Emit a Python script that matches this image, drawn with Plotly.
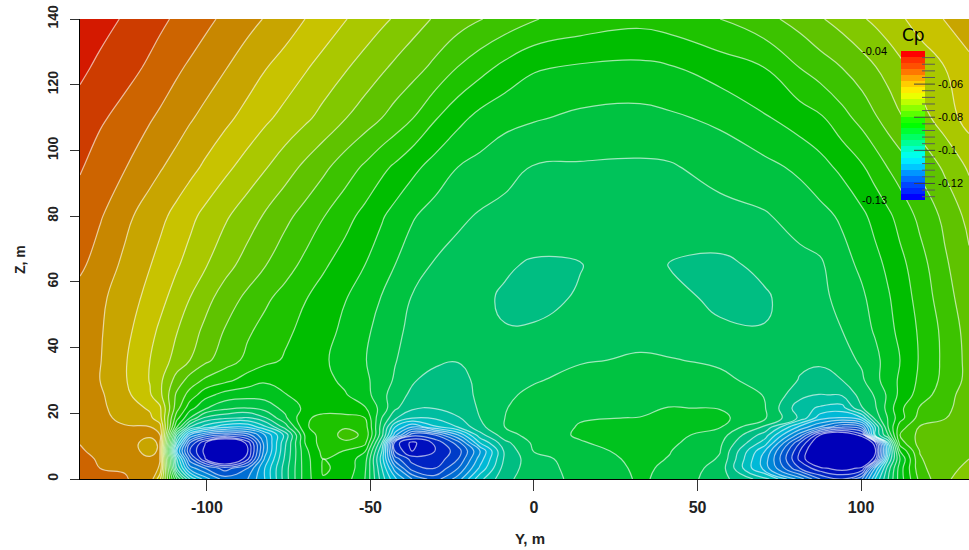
import numpy as np
import plotly.graph_objects as go

# Y positions (m) and Z positions (m) of the readings
y_m = [-138.8,-132.7,-125.1,-117.4,-114.4,-109.2,-105.2,-100.6,-94.5,-87.5,-82.3,-76.1,-70,-64.5,-57.8,-51.7,-46.5,-42.5,-37.3,-30.3,-23.2,-16.5,-8.9,0,14.1,32.4,41.6,56.9,70.6,81.3,87.5,94.2,100.3,104.3,108.3,111.9,118,125.7,133]
z_m = [0,3.3,6.1,8.5,11,13.4,15.8,18.6,21.6,25.6,30.1,36.2,45.3,55.1,65.1,80,95,109.9,125.1,140]

# Readings: position among the Cp contours counted from the picture (one row per Z, bottom to top)
contour_readings = [
 [2.6,2.8,2.95,3.3,5.7,13,17,19.5,21.5,21,19,15.5,12.5,11.05,11.5,13,16.5,18.8,21,22.5,20.5,17.3,15.2,14.55,13.7,12.9,13.2,14.6,16.5,20.5,23,24,22,18,15,12.5,9.7,8.1,7.7],
 [2.75,3,3.05,3.5,4.1,16,20.5,22,23.5,22,19,15.5,12.5,10.9,11.2,12.8,17,20.5,23.5,24,22,18.8,15.5,14.5,13.6,12.85,13.15,14.4,19.5,24,25.8,26.5,25.8,20,15.5,12.5,9.3,8.15,7.9],
 [2.75,3.1,3.4,3.9,3.95,17,22.5,25.9,29,25.2,19.8,15.8,12.4,11,11.4,12.5,17.5,22.5,24.4,24.8,23,19.5,15.8,14.35,13.55,12.75,13.05,14.1,19.5,25.3,28,29,28,25.5,17,13,9.1,8.2,8],
 [2.9,3.25,3.7,4.2,3.9,19,24,26.3,31,26,20.5,16,12.3,10.7,11.05,11.9,17,24,26.1,25,23.5,20,15.8,13.95,13.4,12.6,12.97,13.97,19,25,28,29,28.5,26.3,18,12,8.95,8.35,8.2],
 [3.03,3.35,3.75,4.2,3.9,17,23,25.9,29,25.6,20.5,16.2,12,10.45,10.1,10.7,16,24.5,26.3,24.8,22.5,18,15.3,13.8,13.1,12.4,12.8,13.8,17.5,24,27.5,28.5,28,25.5,17,10.5,8.6,8.45,8.35],
 [3.15,3.5,3.75,3.9,3.95,15,20,22,23,22.5,20,16.7,11.9,10.4,9.8,10.1,14.7,19.5,23.6,23,20,16.4,14.4,13.6,12.85,12.45,12.65,13.5,16.5,21.5,26,27.5,25.5,17,14,10,8.7,8.6,8.45],
 [3.2,3.6,3.9,3.97,4.6,12,16,17.5,18.8,18.9,17.3,14.6,11.2,10.3,10.05,10.45,14.5,18,20,18.2,17,15.3,14,13.4,12.95,12.55,12.5,12.95,15.2,19.3,21.1,23,22,17,13,10.5,8.9,8.75,8.6],
 [3.25,3.7,4.3,4.8,5.6,10.6,13,15.2,15.8,16.1,15.1,13.2,11.15,10.75,10.75,11,14,15.8,16.9,16.85,16.1,15,14,13.45,13.05,12.98,12.7,12.75,13.85,16.2,18.6,19.05,18,14.65,12.9,11.4,9.6,9.03,8.6],
 [3.35,3.8,4.45,5.15,5.8,9.6,11.6,12.85,13.7,14,13.6,12.7,11.8,11.35,11.45,11.9,13.4,14.8,15.8,15.95,15.55,14.9,14.05,13.55,13.15,13.2,12.97,13.05,13.95,16.6,17.15,17.4,15.05,14.15,12.6,11.25,9.9,9.2,8.55],
 [3.4,3.85,4.7,5.9,6.7,9.2,10.4,11.6,12.4,12.6,12.6,12.05,11.65,11.55,11.9,12.65,13.6,14.65,15.15,15.6,15.55,14.75,14.2,13.75,13.4,13.4,13.2,13.3,14.05,15.65,16.05,15.9,14.6,13.9,12.8,11.75,10.55,9.4,8.5],
 [3.6,4,4.9,6.05,6.75,8.4,9.4,10.15,10.7,11.45,11.85,11.6,11.4,11.65,12.25,12.75,13.6,14.1,14.9,15.35,15.2,14.85,14.5,14.1,13.65,13.45,13.5,13.8,14.3,15.05,15.3,15,14.15,13.3,12.5,11.85,10.8,9.7,8.7],
 [3.6,3.95,4.9,6,6.5,7.35,8,8.75,9.5,10.25,10.7,11.1,11.45,11.85,12.4,12.95,13.5,13.95,14.4,14.8,14.97,14.75,14.45,14.35,14.1,13.88,13.95,14.15,14.4,14.85,14.85,14.35,13.85,13.25,12.6,12,10.9,9.75,8.7],
 [3.55,3.9,4.7,5.72,6.15,6.95,7.55,8.2,9.05,9.85,10.3,10.8,11.25,11.65,12.2,12.8,13.35,13.75,14.25,14.55,14.7,14.75,14.97,14.95,14.5,14.35,14.5,14.9,14.97,14.65,14.4,14,13.35,12.9,12.3,11.75,10.85,9.7,8.6],
 [3.4,3.8,4.5,5.3,5.7,6.4,7,7.65,8.45,9.25,9.8,10.35,10.95,11.4,11.95,12.55,13.05,13.5,14.05,14.4,14.6,14.85,15.1,15.15,14.95,14.6,14.8,15.15,15.1,14.6,14.25,13.7,13.15,12.65,12.1,11.55,10.65,9.4,8.4],
 [2.8,3.45,4.2,4.97,5.3,5.9,6.35,6.9,7.65,8.4,8.95,9.6,10.25,10.85,11.45,12,12.55,13,13.5,14.1,14.4,14.6,14.9,15.1,15.02,14.8,15.03,15.2,14.8,14.3,14.15,13.35,12.8,12.3,11.8,11.3,10.4,9.15,8.2],
 [2.5,2.9,3.75,4.48,4.75,5.3,5.75,6.25,6.85,7.55,8.1,8.75,9.35,9.95,10.65,11.3,11.9,12.35,12.9,13.4,13.8,14.1,14.3,14.45,14.55,14.5,14.5,14.35,14.1,13.6,13.3,12.85,12.2,11.7,11.2,10.65,9.75,8.75,7.7],
 [1.9,2.45,2.95,3.63,3.9,4.35,4.7,5.15,5.75,6.4,6.9,7.55,8.2,8.75,9.5,10.15,10.75,11.15,11.7,12.4,13,13.3,13.65,14.05,14.1,14.15,14.1,13.6,13.25,12.8,12.35,11.75,11.1,10.55,9.95,9.5,8.8,7.8,6.85],
 [1.4,1.85,2.35,2.92,3.15,3.55,3.9,4.25,4.75,5.35,5.8,6.3,6.8,7.3,7.95,8.5,9,9.4,9.95,10.9,11.7,12.3,12.7,12.9,13.2,13.3,13.15,12.8,12.1,11.5,11.15,10.35,9.65,9.1,8.55,8.1,7.4,6.5,5.6],
 [0.8,1.2,1.65,2.17,2.4,2.85,3.15,3.5,3.95,4.5,4.95,5.4,5.9,6.35,6.9,7.4,7.85,8.2,8.6,9.25,10.05,10.65,11.3,11.9,12.15,12.25,12.1,11.5,11,10,9.5,9,8.45,8.05,7.65,7.25,6.6,6,5.35],
 [0.25,0.65,1.1,1.6,1.8,2.15,2.4,2.75,3.2,3.7,4.05,4.5,5,5.4,5.95,6.4,6.8,7.1,7.55,8.1,8.55,8.95,9.4,9.95,10.4,10.7,10.5,10,9.3,8.6,8.1,7.6,7.1,6.8,6.45,6.15,5.6,4.95,4.3],
]

first_level = -0.042
level_step = -0.0035
last_level = -0.1295
cp_grid = first_level + level_step * (np.array(contour_readings) - 1)

# band colours of the field, from the top contour band (highest Cp) to the lowest
field_band_colors = ["rgb(212,25,0)","rgb(205,60,0)","rgb(205,100,0)","rgb(200,135,0)","rgb(200,165,0)","rgb(200,195,0)",
 "rgb(170,200,0)","rgb(130,200,0)","rgb(95,195,0)","rgb(60,195,0)","rgb(30,195,0)","rgb(0,190,0)","rgb(0,195,30)",
 "rgb(0,195,65)","rgb(0,195,90)","rgb(0,190,130)","rgb(0,190,160)","rgb(0,190,190)","rgb(0,185,215)","rgb(0,160,215)",
 "rgb(0,135,215)","rgb(0,110,210)","rgb(0,85,205)","rgb(0,60,200)","rgb(0,35,195)","rgb(0,15,190)","rgb(0,0,185)"]
n_bands = len(field_band_colors)
field_scale = [[i/(n_bands-1), c] for i, c in enumerate(reversed(field_band_colors))]

# legend bar
bar_colors = ["rgb(255,0,0)","rgb(255,50,0)","rgb(255,80,0)","rgb(255,120,0)","rgb(255,165,0)","rgb(255,205,0)","rgb(255,235,0)",
 "rgb(235,255,0)","rgb(190,255,0)","rgb(140,255,0)","rgb(90,255,0)","rgb(30,255,0)","rgb(0,255,0)","rgb(0,255,50)","rgb(0,255,100)",
 "rgb(0,255,150)","rgb(0,255,200)","rgb(0,255,235)","rgb(0,235,255)","rgb(0,200,255)","rgb(0,150,255)","rgb(0,110,255)",
 "rgb(0,70,255)","rgb(0,40,255)","rgb(0,0,255)"]
bar_cp = [-0.0418,-0.0454,-0.049,-0.0526,-0.0562,-0.0598,-0.0634,-0.067,-0.0706,-0.0742,-0.0778,-0.0814,-0.085,-0.0886,-0.0922,-0.0958,-0.0994,-0.103,-0.1066,-0.1102,-0.1138,-0.1174,-0.121,-0.1246,-0.1282]
bar_minor_ticks = [-0.044,-0.048,-0.052,-0.056,-0.064,-0.068,-0.072,-0.076,-0.084,-0.088,-0.092,-0.096,-0.104,-0.108,-0.112,-0.116,-0.124,-0.128]
bar_major_ticks = [-0.06,-0.08,-0.10,-0.12]
bar_major_labels = ["-0.06","-0.08","-0.1","-0.12"]
bar_end_ticks = [-0.04,-0.13]
bar_end_labels = ["-0.04","-0.13"]

x_ticks = [-100,-50,0,50,100]
z_ticks = [0,20,40,60,80,100,120,140]

W, H = 969, 550
fig = go.Figure()
fig.add_trace(go.Contour(x=y_m, y=z_m, z=cp_grid, autocontour=False,
    contours=dict(start=last_level, end=first_level, size=-level_step, coloring="fill", showlines=True),
    line=dict(color="rgba(255,255,255,0.62)", width=1.2, smoothing=1.3),
    colorscale=field_scale, showscale=False, hoverinfo="skip"))

# legend bar in its own small axes
n = len(bar_colors)
bar_scale = []
for i, c in enumerate(reversed(bar_colors)):
    bar_scale += [[i/n, c], [(i+1)/n, c]]
fig.add_trace(go.Heatmap(x=[901,925], y=bar_cp, z=[[v] for v in bar_cp], colorscale=bar_scale,
    zmin=-0.13, zmax=-0.04, showscale=False, xaxis="x2", yaxis="y2", hoverinfo="skip"))
tx, ty = [], []
for t in bar_minor_ticks:
    tx += [922,935,None]; ty += [t,t,None]
fig.add_trace(go.Scatter(x=tx, y=ty, mode="lines", line=dict(color="#5a5a5a", width=1), xaxis="x2", yaxis="y2", showlegend=False, hoverinfo="skip"))
tx, ty = [], []
for t in bar_major_ticks:
    tx += [914,935,None]; ty += [t,t,None]
fig.add_trace(go.Scatter(x=tx, y=ty, mode="lines", line=dict(color="#444444", width=1), xaxis="x2", yaxis="y2", showlegend=False, hoverinfo="skip"))

ann = []
small = dict(family="Liberation Sans", size=11, color="black")
for t, s in zip(bar_major_ticks, bar_major_labels):
    ann.append(dict(x=936, y=t, xref="x2", yref="y2", text=s, showarrow=False, xanchor="left", yanchor="middle", font=small))
for t, s in zip(bar_end_ticks, bar_end_labels):
    ann.append(dict(x=889, y=t, xref="x2", yref="y2", text=s, showarrow=False, xanchor="right", yanchor="middle", font=small))
ann.append(dict(x=913/W, y=1-35/H, xref="paper", yref="paper", text="Cp", showarrow=False, xanchor="center", yanchor="middle",
                font=dict(family="DejaVu Sans", size=17, color="black")))

ann.append(dict(x=530/W, y=1-538/H, xref="paper", yref="paper", text="Y, m", showarrow=False, xanchor="center", yanchor="middle",
                font=dict(family="Liberation Sans", size=15, color="#222222", weight="bold")))
ann.append(dict(x=20/W, y=1-260/H, xref="paper", yref="paper", text="Z, m", showarrow=False, xanchor="center", yanchor="middle", textangle=-90,
                font=dict(family="Liberation Sans", size=14, color="#222222", weight="bold")))

fig.update_layout(width=W, height=H, autosize=False, margin=dict(l=0,r=0,t=0,b=0,autoexpand=False), paper_bgcolor="white", plot_bgcolor="rgba(0,0,0,0)",
    showlegend=False, annotations=ann,
    xaxis=dict(domain=[80/W,1], range=[-138.8,133], anchor="y", tickmode="array", tickvals=x_ticks, ticktext=[str(v) for v in x_ticks],
        ticks="outside", ticklen=11, tickwidth=1, tickcolor="#333", showline=True, linecolor="black", linewidth=1, showgrid=False, zeroline=False,
        tickfont=dict(family="Liberation Sans", size=16, color="#222222", weight="bold"), ticklabelstandoff=3),
    yaxis=dict(domain=[1-479/H,1-19/H], range=[0,140], anchor="x", tickmode="array", tickvals=z_ticks, ticktext=[str(v) for v in z_ticks],
        ticks="outside", ticklen=9, tickwidth=1, tickcolor="#333", showline=True, linecolor="black", linewidth=1, showgrid=False, zeroline=False,
        tickfont=dict(family="Liberation Sans", size=14, color="#222222", weight="bold"), tickangle=-90, ticklabelstandoff=6),
    xaxis2=dict(domain=[860/W,965/W], range=[860,965], anchor="y2", visible=False),
    yaxis2=dict(domain=[1-200/H,1-51/H], range=[-0.13,-0.04], anchor="x2", visible=False),
)
fig.write_html("out.html", config=dict(displayModeBar=False),
               post_script="document.body.style.margin='0';document.documentElement.style.overflow='hidden';")
